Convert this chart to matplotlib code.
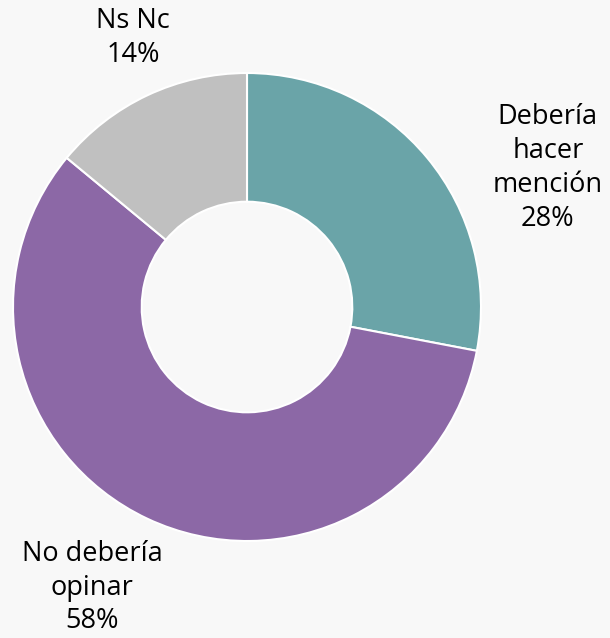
import matplotlib.pyplot as plt

# data
labels = ["Debería\nhacer\nmención", "No debería\nopinar", "Ns Nc"]
values = [28, 58, 14]
colors = ["#6aa4a8", "#8c68a6", "#c0c0c0"]

# label positions (data coords, radius = 1)
label_pos = [(1.286, 0.594), (-0.662, -1.2), (-0.487, 1.15)]

plt.rcParams["font.family"] = ["Open Sans", "DejaVu Sans"]

bg = "#f8f8f8"
fig = plt.figure(figsize=(6.10, 6.38), dpi=100, facecolor=bg)
ax = fig.add_axes([0, 0, 1, 1])
ax.set_facecolor(bg)

ax.pie(values, colors=colors, startangle=90, counterclock=False,
       radius=1, wedgeprops=dict(width=0.55, edgecolor="white", linewidth=1.5))

for lab, v, (x, y) in zip(labels, values, label_pos):
    ax.text(x, y, "{}\n{}%".format(lab, v), ha="center", va="center",
            fontsize=19.5, color="black", linespacing=1.27)

cx, cy, r = 247, 307, 234
ax.set_xlim(-cx / r, (610 - cx) / r)
ax.set_ylim(-(638 - cy) / r, cy / r)
ax.set_aspect("auto")
ax.axis("off")

fig.savefig("out.png", dpi=100, facecolor=bg)
